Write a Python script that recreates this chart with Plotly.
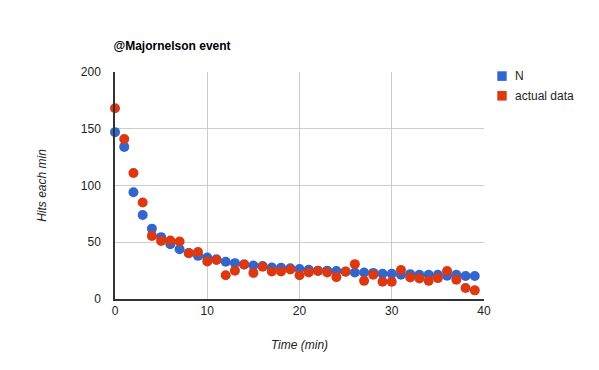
import plotly.graph_objects as go

minutes = list(range(40))
n_values = [147, 134, 94, 74, 62, 54.5, 48.3, 43.9, 40.5, 38, 36.6, 35, 32.8, 31.6, 30.5, 29.5,
            29, 27.8, 27.5, 27, 26.4, 25.7, 25, 25, 24.6, 24, 23.4, 23.4, 23, 22.2,
            22.2, 21.3, 21.9, 21.3, 21.3, 21.3, 20.5, 21.3, 20.2, 20.2]
actual_values = [168, 141, 111, 85, 55.6, 51.2, 51.5, 50.6, 40.4, 41.3, 33, 34.4, 21, 25, 30.4, 23,
                 28.4, 24.3, 24.3, 26, 21, 23.4, 24.6, 23.4, 19.3, 24.3, 30.7, 16, 21.3, 15.2,
                 15.2, 25.5, 19, 18.1, 16, 18.4, 24.6, 17, 9.7, 7.6]
series_names = ["N", "actual data"]
x_ticks = [0, 10, 20, 30, 40]
y_ticks = [0, 50, 100, 150, 200]

BLUE = "#3366CC"
RED = "#DC3912"
FONT = "Liberation Sans, Arial, sans-serif"

# page body has an 8px default margin; size figure so the page is 599x370
W, H = 591, 362
L, R, T, B = 107, 115, 64, 71
PW, PH = W - L - R, H - T - B

fig = go.Figure()
fig.add_trace(go.Scatter(x=minutes, y=n_values, mode="markers", name=series_names[0],
                         marker=dict(color=BLUE, size=10), cliponaxis=False))
fig.add_trace(go.Scatter(x=minutes, y=actual_values, mode="markers", name=series_names[1],
                         marker=dict(color=RED, size=10), cliponaxis=False))


def px_x(X):
    return (X - L) / PW


def px_y(Y):
    return (H - B - Y) / PH


# manual legend (square swatches)
for i, (name, col) in enumerate(zip(series_names, [BLUE, RED])):
    top = 63.3 + i * 19.7
    fig.add_shape(type="rect", xref="paper", yref="paper",
                  x0=px_x(489.3), x1=px_x(498.7), y0=px_y(top + 9.6), y1=px_y(top),
                  fillcolor=col, line=dict(width=0))
    fig.add_annotation(text=name, xref="paper", yref="paper", x=px_x(505), y=px_y(top + 4.8),
                       xanchor="left", yanchor="middle", showarrow=False,
                       font=dict(size=12, color="#222222", family=FONT))

fig.update_layout(
    width=W, height=H,
    margin=dict(l=L, r=R, t=T, b=B),
    paper_bgcolor="white", plot_bgcolor="white",
    font=dict(family=FONT, size=12, color="#222222"),
    title=dict(text="<b>@Majornelson event</b>", x=105.5 / W, xanchor="left",
               y=1 - 37.7 / H, yanchor="middle", font=dict(size=12, color="#000000")),
    showlegend=False,
    xaxis=dict(range=[0, 40], tickvals=x_ticks, showgrid=True, gridcolor="#cccccc",
               zeroline=False, showline=True, linecolor="#333333", linewidth=1.5,
               ticks="", tickfont=dict(size=12, color="#222222"),
               title=dict(text="<i>Time (min)</i>", font=dict(size=12, color="#222222"), standoff=23)),
    yaxis=dict(range=[0, 200], tickvals=y_ticks, showgrid=True, gridcolor="#cccccc",
               zeroline=False, showline=True, linecolor="#333333", linewidth=1.5,
               ticks="", ticklabelstandoff=10, tickfont=dict(size=12, color="#222222"),
               title=dict(text="<i>Hits each min</i>", font=dict(size=12, color="#222222"), standoff=32)),
)

fig.write_html("out.html")
